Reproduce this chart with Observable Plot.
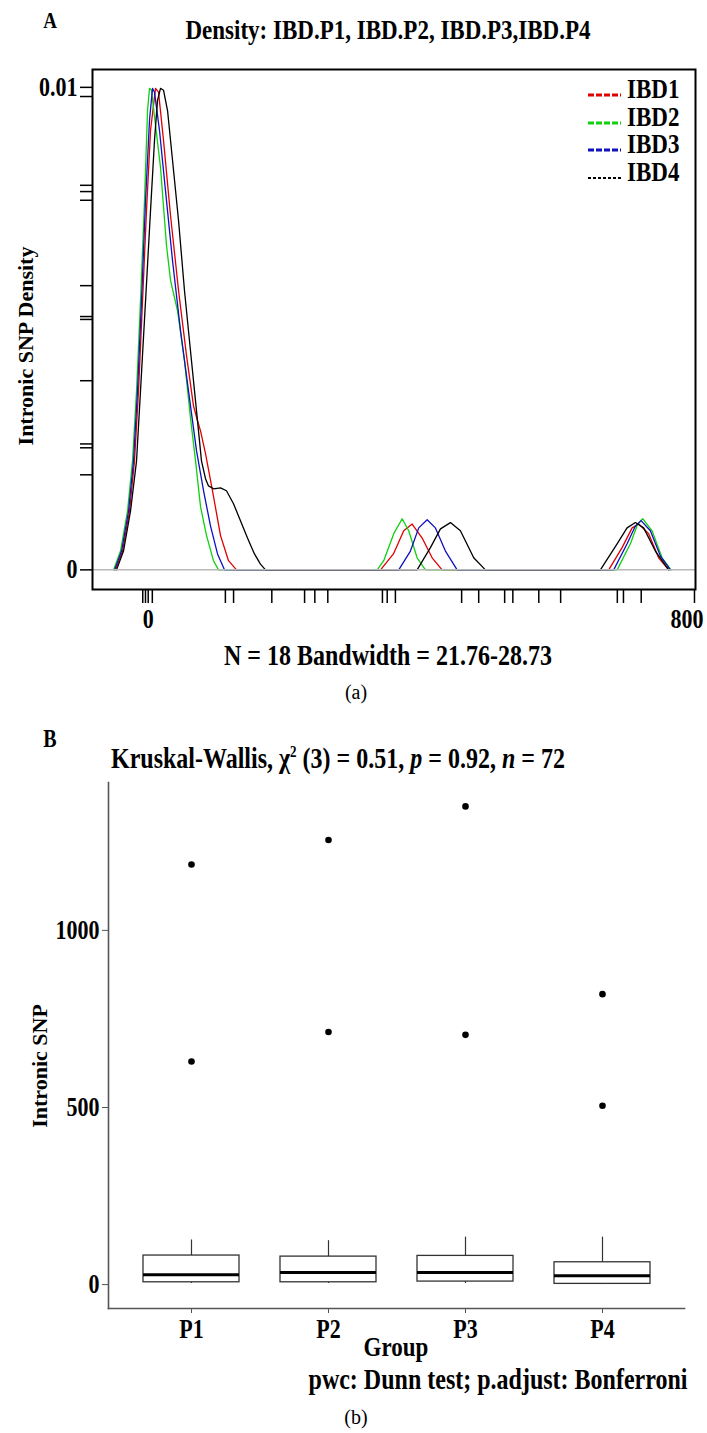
<!DOCTYPE html>
<html><head><meta charset="utf-8">
<script src="https://cdn.jsdelivr.net/npm/d3@7"></script>
<script src="https://cdn.jsdelivr.net/npm/@observablehq/plot@0.6"></script>
<style>
body{margin:0;background:#fff;}
#page{position:relative;width:707px;height:1433px;overflow:hidden;font-family:"Liberation Serif","Times New Roman",serif;background:#fff;}
.t{position:absolute;white-space:nowrap;line-height:1;transform:translate(-50%,-50%) scale(1,1.22);font-weight:bold;color:#000;}
.r{transform:translate(-50%,-50%) rotate(-90deg);}
.n{font-weight:normal;transform:translate(-50%,-50%);}
.plot{position:absolute;left:0;}
</style></head><body><div id="page">
<div id="pa" class="plot" style="top:0px"></div>
<div id="pb" class="plot" style="top:770px"></div>
<div class="t" style="left:50px;top:20px;font-size:19px">A</div>
<div class="t" style="left:388px;top:30px;font-size:23px">Density: IBD.P1, IBD.P2, IBD.P3,IBD.P4</div>
<div class="t r" style="left:26px;top:346px;font-size:22px">Intronic SNP Density</div>
<div class="t" style="left:388px;top:655px;font-size:24px">N = 18 Bandwidth = 21.76-28.73</div>
<div class="t n" style="left:356px;top:692px;font-size:20px">(a)</div>
<div class="t" style="left:50px;top:738px;font-size:20px">B</div>
<div class="t" style="left:338px;top:758px;font-size:24px">Kruskal-Wallis, χ<span style="font-size:13px;position:relative;top:-9px">2</span> (3) = 0.51, <i>p</i> = 0.92, <i>n</i> = 72</div>
<div class="t r" style="left:40px;top:1066px;font-size:22px">Intronic SNP</div>
<div class="t" style="left:396px;top:1347px;font-size:23px">Group</div>
<div class="t" style="left:498px;top:1379px;font-size:24px">pwc: Dunn test; p.adjust: Bonferroni</div>
<div class="t n" style="left:356px;top:1417px;font-size:20px">(b)</div>
<div id="legend"></div>
</div>
<script>
// ---------- Panel A data (density curves) ----------
const seriesNames = ["IBD1", "IBD2", "IBD3", "IBD4"];
const seriesColors = ["#e00000", "#10d010", "#1010c0", "#000000"];

const ibd1X = [-47.9,-37.6,-27.4,-20.1,-14.2,-8.3,-2.5,3.4,10.7,15.1,22.4,32.7,44.4,56.1,66.3,72.2,76.6,83.9,94.1,105.9,117.6,129.3, 340.2,359.1,374.2,386.5,401.2,415.8,430.4, 674.4,694.0,708.7,718.3,732.9,747.5,762.2];
const ibd1Y = [0,0.00039,0.00122,0.00226,0.00371,0.00558,0.00745,0.00911,0.00998,0.00990,0.00890,0.00734,0.00579,0.00444,0.00340,0.00309,0.00288,0.00241,0.00164,0.00071,0.00019,0, 0,0.00033,0.00081,0.00095,0.00066,0.00025,0, 0,0.00046,0.00087,0.00095,0.00075,0.00025,0];

const ibd2X = [-50.8,-40.6,-30.3,-23.0,-17.1,-11.3,-5.4,-1.0,1.9,4.8,10.7,18.0,26.8,32.7,42.9,53.1,61.9,69.3,76.6,85.4,95.6,102.9, 335.3,344.9,359.6,371.9,381.5,393.8,406.0, 686.7,706.2,716.8,724.2,737.9,752.5,765.7];
const ibd2Y = [0,0.00039,0.00122,0.00226,0.00371,0.00558,0.00766,0.00952,0.00998,0.00994,0.00921,0.00834,0.00672,0.00600,0.00537,0.00434,0.00315,0.00226,0.00131,0.00071,0.00019,0, 0,0.00019,0.00075,0.00106,0.00081,0.00025,0, 0,0.00054,0.00095,0.00106,0.00081,0.00025,0];

const ibd3X = [-49.3,-39.1,-28.8,-21.5,-15.7,-9.8,-3.9,1.9,6.3,9.2,16.5,25.3,35.6,47.3,59.0,70.7,81.0,91.2,101.5,111.7, 366.9,384.0,396.2,408.5,420.6,435.3,452.4, 681.7,701.3,713.5,721.8,735.4,750.0,764.7];
const ibd3Y = [0,0.00039,0.00122,0.00226,0.00371,0.00558,0.00766,0.00932,0.00998,0.00990,0.00911,0.00786,0.00641,0.00496,0.00371,0.00247,0.00164,0.00091,0.00033,0, 0,0.00039,0.00087,0.00104,0.00087,0.00039,0, 0,0.00054,0.00091,0.00102,0.00081,0.00029,0];

const ibd4X = [-46.4,-36.2,-25.9,-17.1,-11.3,-3.9,3.4,9.2,13.6,18.0,22.4,28.3,35.6,44.4,53.1,61.9,70.7,78.0,83.9,88.3,95.6,105.9,114.6,124.9,135.1,145.4,155.6,164.4,171.7, 393.8,413.3,428.0,442.6,457.2,476.7,493.8, 662.2,686.7,701.3,713.5,725.6,742.7,762.2];
const ibd4Y = [0,0.00039,0.00122,0.00226,0.00371,0.00558,0.00745,0.00890,0.00973,0.00998,0.00994,0.00952,0.00849,0.00724,0.00579,0.00454,0.00330,0.00226,0.00189,0.00174,0.00168,0.00170,0.00164,0.00137,0.00102,0.00066,0.00033,0.00012,0, 0,0.00046,0.00085,0.00098,0.00081,0.00025,0, 0,0.00054,0.00087,0.00098,0.00087,0.00039,0];

// rug marks under the x axis and odd ticks on the y axis
const rugX = [-8,-4,0,6,113,125,181,229,244,263,343,350,362,459,484,522,534,572,604,687,696,722];
const xTickLabels = [0, 800];
const yTicksA = [0,0.00197,0.00253,0.00261,0.00392,0.00519,0.00525,0.00589,0.00766,0.00784,0.00797,0.00981,0.01];
const yTickLabelsA = [0, 0.01];

// ---------- Panel B data (box plot) ----------
const groups = ["P1","P2","P3","P4"];
const whiskerLow = [3, 3, 3, 0];
const q1 = [6.5, 6.5, 8.5, 2];
const median = [28, 34, 34, 25];
const q3 = [82, 79, 81, 63];
const whiskerHigh = [126, 124, 134, 134];
const outlierGroup = ["P1","P1","P2","P2","P3","P3","P4","P4"];
const outlierValue = [1186, 630, 1255, 713, 1350, 705, 820, 505];
const yTicksB = [0, 500, 1000];

// ---------- build ----------
const txtStyle = {fontFamily:"Liberation Serif", fontSize:"22px", fontWeight:"bold", background:"transparent", color:"black", overflow:"visible"};
const STRETCH = 1.22;
function stretchText(svg) {
  svg.querySelectorAll("text").forEach(t => {
    const tr = t.getAttribute("transform");
    if (tr) t.setAttribute("transform", `${tr} scale(1,${STRETCH})`);
  });
}

const seriesX = [ibd1X, ibd2X, ibd3X, ibd4X];
const seriesY = [ibd1Y, ibd2Y, ibd3Y, ibd4Y];
const lineMarks = seriesNames.map((name, i) =>
  Plot.line(d3.zip(seriesX[i], seriesY[i]), {x: d => d[0], y: d => d[1], stroke: seriesColors[i], strokeWidth: 1.3}));

const plotA = Plot.plot({
  width: 707, height: 640,
  marginLeft: 92, marginRight: 12, marginTop: 69, marginBottom: 51,
  style: txtStyle,
  x: {domain: [-81.6, 801.5]},
  y: {domain: [-0.000407, 0.01037]},
  marks: [
    ...lineMarks,
    Plot.ruleY([0], {stroke: "#b8b8b8", strokeWidth: 1.5}),
    Plot.frame({stroke: "black", strokeWidth: 2}),
    Plot.axisY({ticks: yTicksA, tickSize: 12, tickPadding: 3, strokeWidth: 1.5,
      tickFormat: d => yTickLabelsA.includes(d) ? String(d) : "", fontSize: 22, label: null}),
    Plot.axisX({ticks: [...rugX, xTickLabels[1]], tickSize: 14, strokeWidth: 1.5, tickFormat: () => "", label: null}),
    Plot.axisX({ticks: [xTickLabels[0]], tickSize: 0, tickPadding: 19, tickFormat: d => String(d), fontSize: 22, label: null}),
    Plot.axisX({ticks: [xTickLabels[1]], tickSize: 0, tickPadding: 19, textAnchor: "end", dx: 9, tickFormat: d => String(d), fontSize: 22, label: null})
  ]
});
stretchText(plotA);
document.getElementById("pa").appendChild(plotA);

// legend
const legendY = [89, 116.5, 144, 171.5];
const leg = document.getElementById("legend");
seriesNames.forEach((name, i) => {
  const dash = i === 3 ? "3,2" : "6,2";
  const sw = i === 3 ? 2 : 3;
  const d = document.createElement("div");
  d.style.cssText = `position:absolute;left:588px;top:${legendY[i]-4}px;width:33px;height:8px;`;
  d.innerHTML = `<svg width="33" height="8"><line x1="0" y1="4" x2="33" y2="4" stroke="${seriesColors[i]}" stroke-width="${sw}" stroke-dasharray="${dash}"/></svg>`;
  leg.appendChild(d);
  const t = document.createElement("div");
  t.className = "t";
  t.style.cssText = `left:627px;top:${legendY[i]}px;font-size:23px;transform:translate(0,-50%) scale(1,${STRETCH});`;
  t.textContent = name;
  leg.appendChild(t);
});

const boxes = groups.map((g, i) => ({group: g, lo: whiskerLow[i], q1: q1[i], med: median[i], q3: q3[i], hi: whiskerHigh[i]}));
const outliers = outlierGroup.map((g, i) => ({group: g, value: outlierValue[i]}));

const plotB = Plot.plot({
  width: 707, height: 600,
  marginLeft: 108, marginRight: 23, marginTop: 12, marginBottom: 62,
  style: txtStyle,
  x: {type: "band", domain: groups, paddingInner: 0.3, paddingOuter: 0.25},
  y: {domain: [-67.5, 1417.5]},
  marks: [
    Plot.ruleX(boxes, {x: "group", y1: "q3", y2: "hi", stroke: "#333", strokeWidth: 1.2}),
    Plot.ruleX(boxes, {x: "group", y1: "lo", y2: "q1", stroke: "#333", strokeWidth: 1.2}),
    Plot.barY(boxes, {x: "group", y1: "q1", y2: "q3", fill: "white", stroke: "#333", strokeWidth: 1.3}),
    Plot.tickY(boxes, {x: "group", y: "med", stroke: "black", strokeWidth: 3}),
    Plot.dot(outliers, {x: "group", y: "value", r: 3.3, fill: "black", stroke: "none"}),
    Plot.frame({anchor: "left", stroke: "#555", strokeWidth: 1.6}),
    Plot.frame({anchor: "bottom", stroke: "#555", strokeWidth: 1.6}),
    Plot.axisY({ticks: yTicksB, tickSize: 6, tickPadding: 3, stroke: "#555", fill: "black", tickFormat: d => String(d), fontSize: 22, label: null}),
    Plot.axisX({tickSize: 5, tickPadding: 5, stroke: "#555", fill: "black", fontSize: 22, label: null})
  ]
});
stretchText(plotB);
document.getElementById("pb").appendChild(plotB);
</script>
</body></html>
